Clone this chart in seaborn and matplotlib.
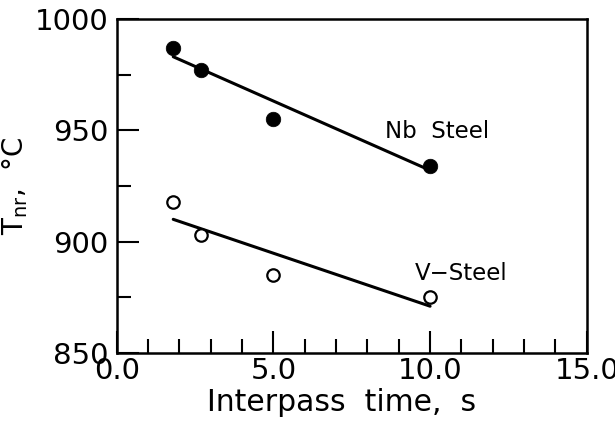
import matplotlib
matplotlib.use("Agg")
import matplotlib.pyplot as plt
import seaborn as sns
import pandas as pd
from matplotlib.ticker import MultipleLocator, FormatStrFormatter

# Data
nb_time = [1.8, 2.7, 5.0, 10.0]
nb_tnr = [987, 977, 955, 934]
v_time = [1.8, 2.7, 5.0, 10.0]
v_tnr = [918, 903, 885, 875]
nb_fit_time = [1.8, 10.0]
nb_fit_tnr = [983, 932]
v_fit_time = [1.8, 10.0]
v_fit_tnr = [910, 871]

sns.set_theme(style="ticks")
plt.rcParams['font.family'] = ['DejaVu Sans']
plt.rcParams['text.color'] = 'black'
plt.rcParams['axes.labelcolor'] = 'black'
plt.rcParams['xtick.color'] = 'black'
plt.rcParams['ytick.color'] = 'black'

fig = plt.figure(figsize=(6.15, 4.24), dpi=100)
ax = fig.add_axes([0.190, 0.1675, 0.764, 0.788])

nb_df = pd.DataFrame({"t": nb_time, "T": nb_tnr})
v_df = pd.DataFrame({"t": v_time, "T": v_tnr})
nbf = pd.DataFrame({"t": nb_fit_time, "T": nb_fit_tnr})
vf = pd.DataFrame({"t": v_fit_time, "T": v_fit_tnr})

sns.lineplot(data=nbf, x="t", y="T", ax=ax, color="black", linewidth=2.2)
sns.lineplot(data=vf, x="t", y="T", ax=ax, color="black", linewidth=2.2)
sns.scatterplot(data=nb_df, x="t", y="T", ax=ax, color="black", s=110,
                edgecolor="black", linewidth=0.5, zorder=5)
sns.scatterplot(data=v_df, x="t", y="T", ax=ax, facecolor="white", s=80,
                edgecolor="black", linewidth=1.6, zorder=5)

ax.set_xlim(0, 15)
ax.set_ylim(850, 1000)
ax.xaxis.set_major_locator(MultipleLocator(5))
ax.xaxis.set_minor_locator(MultipleLocator(1))
ax.yaxis.set_major_locator(MultipleLocator(50))
ax.yaxis.set_minor_locator(MultipleLocator(25))
ax.xaxis.set_major_formatter(FormatStrFormatter("%.1f"))
ax.yaxis.set_major_formatter(FormatStrFormatter("%d"))

ax.tick_params(which="both", direction="in", top=False, right=False,
               width=1.5, colors="black")
ax.tick_params(which="major", length=16, labelsize=21)
ax.tick_params(axis="x", which="major", pad=3)
ax.tick_params(axis="y", which="major", pad=6)
ax.tick_params(which="minor", length=10)
for s in ax.spines.values():
    s.set_linewidth(1.8)
    s.set_color("black")
    s.set_visible(True)

ax.set_xlabel("Interpass  time,  s", fontsize=21.5, labelpad=0)
ax.xaxis.set_label_coords(0.479, -0.105)
ax.set_ylabel(r"T$_{\mathrm{nr}}$,  °C", fontsize=20)
ax.yaxis.set_label_coords(-0.185, 0.50)

ax.text(8.55, 946.6, "Nb  Steel", fontsize=16.5, ha="left", va="baseline")
ax.text(9.5, 882.8, "V\u2212Steel", fontsize=16.5, ha="left", va="baseline")

fig.savefig("out.png", dpi=100)
